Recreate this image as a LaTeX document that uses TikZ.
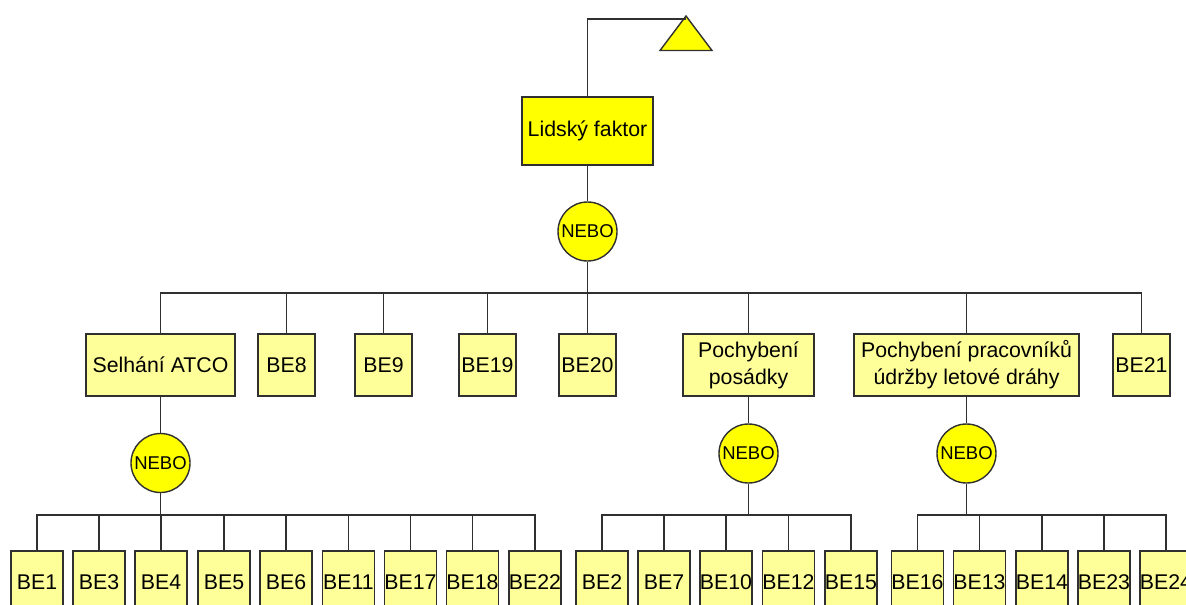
\documentclass[tikz,border=0pt]{standalone}
\usepackage{fontspec}
\setmainfont{Liberation Sans}
\definecolor{edge}{HTML}{303030}
\definecolor{gold}{HTML}{FFFF00}
\definecolor{pale}{HTML}{FFFF99}
\tikzset{
  wire/.style={draw=edge, line width=1.4pt},
  topbox/.style={draw=edge, line width=1.4pt, fill=gold, rectangle, inner sep=0pt,
    minimum height=68pt, font=\fontsize{21.3}{26}\selectfont},
  midbox/.style={draw=edge, line width=1.4pt, fill=pale, rectangle, inner sep=0pt,
    minimum height=62pt, align=center, font=\fontsize{21.3}{27}\selectfont},
  bebox/.style={midbox, minimum width=52pt},
  orgate/.style={draw=edge, line width=1.4pt, fill=gold, circle, inner sep=0pt,
    minimum size=59pt, font=\fontsize{18.5}{20}\selectfont},
}
\begin{document}
\begin{tikzpicture}[x=1pt, y=-1pt]
\useasboundingbox (0,0) rectangle (1186,605);
\clip (0,0) rectangle (1186,605);

% top event and transfer symbol
\node[topbox, minimum width=131pt] (top) at (587.5,131) {Lidský faktor};
\coordinate (tri) at (686,16);
\filldraw[draw=edge, fill=gold, line width=1.4pt, line join=miter]
  (660,50.5) -- (tri) -- (712,50.5) -- cycle;
\draw[wire] (top.north) |- (686,19);

% first OR gate and its children
\node[orgate] (g0) at (587.5,231.5) {NEBO};
\draw[wire] (top.south) -- (g0.north);
\coordinate (b0) at (587.5,293);
\draw[wire] (g0.south) -- (b0);

\node[midbox, minimum width=149pt] (atco) at (160.5,365) {Selhání ATCO};
\node[midbox, minimum width=57pt] (be8) at (286.5,365) {BE8};
\node[midbox, minimum width=57pt] (be9) at (383.5,365) {BE9};
\node[midbox, minimum width=57pt] (be19) at (487.5,365) {BE19};
\node[midbox, minimum width=57pt] (be20) at (587.5,365) {BE20};
\node[midbox, minimum width=131pt] (crew) at (748.5,365) {Pochybení\\posádky};
\node[midbox, minimum width=225pt] (rwy) at (966.5,365) {Pochybení pracovníků\\údržby letové dráhy};
\node[midbox, minimum width=57pt] (be21) at (1141.5,365) {BE21};
\foreach \n in {atco,be8,be9,be19,be20,crew,rwy,be21}
  \draw[wire] (\n.north) |- (b0);

% gates under the intermediate events
\node[orgate] (g1) at (160.5,463) {NEBO};
\node[orgate] (g2) at (748.5,453.5) {NEBO};
\node[orgate] (g3) at (966.5,453.5) {NEBO};
\draw[wire] (atco.south) -- (g1.north);
\draw[wire] (crew.south) -- (g2.north);
\draw[wire] (rwy.south) -- (g3.north);
\coordinate (b1) at (160.5,515);
\coordinate (b2) at (748.5,515);
\coordinate (b3) at (966.5,515);
\draw[wire] (g1.south) -- (b1);
\draw[wire] (g2.south) -- (b2);
\draw[wire] (g3.south) -- (b3);

% basic events
\foreach \x/\t in {37/BE1, 99/BE3, 161/BE4, 224/BE5, 286/BE6, 348.5/BE11, 410.5/BE17, 472.5/BE18, 535/BE22} {
  \node[bebox] (\t) at (\x,582) {\t};
  \draw[wire] (\t.north) |- (b1);
}
\foreach \x/\t in {602/BE2, 664/BE7, 726/BE10, 788.5/BE12, 851/BE15} {
  \node[bebox] (\t) at (\x,582) {\t};
  \draw[wire] (\t.north) |- (b2);
}
\foreach \x/\t in {917.5/BE16, 979.5/BE13, 1042/BE14, 1104/BE23, 1166/BE24} {
  \node[bebox] (\t) at (\x,582) {\t};
  \draw[wire] (\t.north) |- (b3);
}
\end{tikzpicture}
\end{document}
